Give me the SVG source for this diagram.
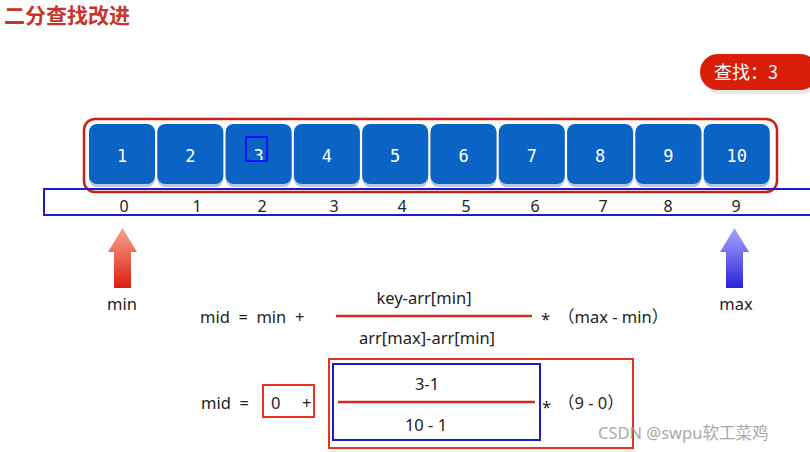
<svg xmlns="http://www.w3.org/2000/svg" width="810" height="452" viewBox="0 0 810 452">
<defs>
<style>
.title{font-family:"Noto Sans CJK SC","Noto Sans",sans-serif;font-weight:bold;font-size:21px;fill:#c8342a}
.cell{fill:#0b63c5}
.cellsh{fill:#b9c6dc}
.num{font-family:"DejaVu Sans Mono",monospace;font-size:17px;fill:#ffffff;text-anchor:middle}
.idx{font-family:"Noto Sans","DejaVu Sans",sans-serif;font-size:16px;fill:#222;text-anchor:middle}
.f{font-family:"Noto Sans","Noto Sans CJK SC",sans-serif;font-size:16.5px;fill:#222}
.fc{text-anchor:middle}
.rbox{fill:none;stroke:#e8321e;stroke-width:2}
.bbox{fill:none;stroke:#1c1ccc;stroke-width:2}
.bar{stroke:#d42a1c;stroke-width:2.5}
</style>
<linearGradient id="gRed" x1="0" y1="0" x2="0" y2="1">
<stop offset="0" stop-color="#f7a48e"/><stop offset="1" stop-color="#dc1e10"/>
</linearGradient>
<linearGradient id="gBlue" x1="0" y1="0" x2="0" y2="1">
<stop offset="0" stop-color="#a8a8ff"/><stop offset="1" stop-color="#2a22d8"/>
</linearGradient>
</defs>
<rect width="810" height="452" fill="#ffffff"/>
<text class="title" x="4" y="23">二分查找改进</text>

<g id="badge">
<rect x="702" y="57" width="118" height="37" rx="18" fill="#d8d8d8" opacity="0.6"/>
<rect x="700" y="54" width="118" height="36" rx="18" fill="#d81e08"/>
<text x="714" y="79" font-family="Noto Sans CJK SC,sans-serif" font-size="18" fill="#fff">查找：3</text>
</g>

<g id="array">
<rect x="84" y="119" width="693" height="73" rx="11" fill="none" stroke="#cc1f16" stroke-width="2.5"/>
<g id="cells">
<rect class="cellsh" x="89" y="126" width="66" height="61" rx="8"/>
<rect class="cellsh" x="157.3" y="126" width="66" height="61" rx="8"/>
<rect class="cellsh" x="225.6" y="126" width="66" height="61" rx="8"/>
<rect class="cellsh" x="293.9" y="126" width="66" height="61" rx="8"/>
<rect class="cellsh" x="362.2" y="126" width="66" height="61" rx="8"/>
<rect class="cellsh" x="430.5" y="126" width="66" height="61" rx="8"/>
<rect class="cellsh" x="498.8" y="126" width="66" height="61" rx="8"/>
<rect class="cellsh" x="567.1" y="126" width="66" height="61" rx="8"/>
<rect class="cellsh" x="635.4" y="126" width="66" height="61" rx="8"/>
<rect class="cellsh" x="703.7" y="126" width="66" height="61" rx="8"/>
<rect class="cell" x="89" y="124" width="66" height="60" rx="8"/>
<rect class="cell" x="157.3" y="124" width="66" height="60" rx="8"/>
<rect class="cell" x="225.6" y="124" width="66" height="60" rx="8"/>
<rect class="cell" x="293.9" y="124" width="66" height="60" rx="8"/>
<rect class="cell" x="362.2" y="124" width="66" height="60" rx="8"/>
<rect class="cell" x="430.5" y="124" width="66" height="60" rx="8"/>
<rect class="cell" x="498.8" y="124" width="66" height="60" rx="8"/>
<rect class="cell" x="567.1" y="124" width="66" height="60" rx="8"/>
<rect class="cell" x="635.4" y="124" width="66" height="60" rx="8"/>
<rect class="cell" x="703.7" y="124" width="66" height="60" rx="8"/>
<text class="num" x="122" y="162">1</text>
<text class="num" x="190.3" y="162">2</text>
<text class="num" x="258.6" y="162">3</text>
<text class="num" x="326.9" y="162">4</text>
<text class="num" x="395.2" y="162">5</text>
<text class="num" x="463.5" y="162">6</text>
<text class="num" x="531.8" y="162">7</text>
<text class="num" x="600.1" y="162">8</text>
<text class="num" x="668.4" y="162">9</text>
<text class="num" x="736.7" y="162">10</text>
</g>
<rect x="246" y="137" width="21" height="24" fill="none" stroke="#1010ff" stroke-width="2"/>
</g>

<g id="indices">
<path d="M810 189 H44 V215 H810" fill="none" stroke="#1c1ccc" stroke-width="2"/>
<text class="idx" x="124" y="212">0</text>
<text class="idx" x="197" y="212">1</text>
<text class="idx" x="262" y="212">2</text>
<text class="idx" x="334" y="212">3</text>
<text class="idx" x="402" y="212">4</text>
<text class="idx" x="466" y="212">5</text>
<text class="idx" x="535" y="212">6</text>
<text class="idx" x="603" y="212">7</text>
<text class="idx" x="668" y="212">8</text>
<text class="idx" x="736" y="212">9</text>
</g>

<g id="min-pointer">
<path d="M122.5 228 L137 252 L131 252 L131 288 L114 288 L114 252 L108 252 Z" fill="url(#gRed)"/>
<text class="f fc" x="122" y="310">min</text>
</g>
<g id="max-pointer">
<path d="M734.5 228 L749 252 L743 252 L743 288 L726 288 L726 252 L720 252 Z" fill="url(#gBlue)"/>
<text class="f fc" x="736" y="310">max</text>
</g>

<g id="formula1">
<text class="f" x="200" y="323" xml:space="preserve">mid  =  min  +</text>
<text class="f fc" x="424" y="304">key-arr[min]</text>
<line class="bar" x1="336" y1="316" x2="532" y2="316"/>
<text class="f fc" x="427" y="344">arr[max]-arr[min]</text>
<text class="f" x="541" y="325">*</text>
<text class="f" x="558" y="323">（max - min）</text>
</g>

<g id="formula2">
<text class="f" x="201" y="409" xml:space="preserve">mid  =</text>
<rect class="rbox" x="263" y="385" width="51" height="32"/>
<text class="f" x="271" y="409">0</text>
<text class="f" x="302" y="409">+</text>
<rect class="rbox" x="329" y="359" width="304" height="89"/>
<rect class="bbox" x="333" y="364" width="207" height="76"/>
<text class="f fc" x="427" y="390">3-1</text>
<line class="bar" x1="338" y1="402" x2="535" y2="402"/>
<text class="f fc" x="426" y="431">10 - 1</text>
<text class="f" x="542" y="413">*</text>
<text class="f" x="558" y="409">（9 - 0）</text>
</g>

<text x="598" y="439" font-family="Noto Sans,Noto Sans CJK SC,sans-serif" font-size="16.5" fill="#9a9a9a" opacity="0.85">CSDN @swpu软工菜鸡</text>
</svg>
